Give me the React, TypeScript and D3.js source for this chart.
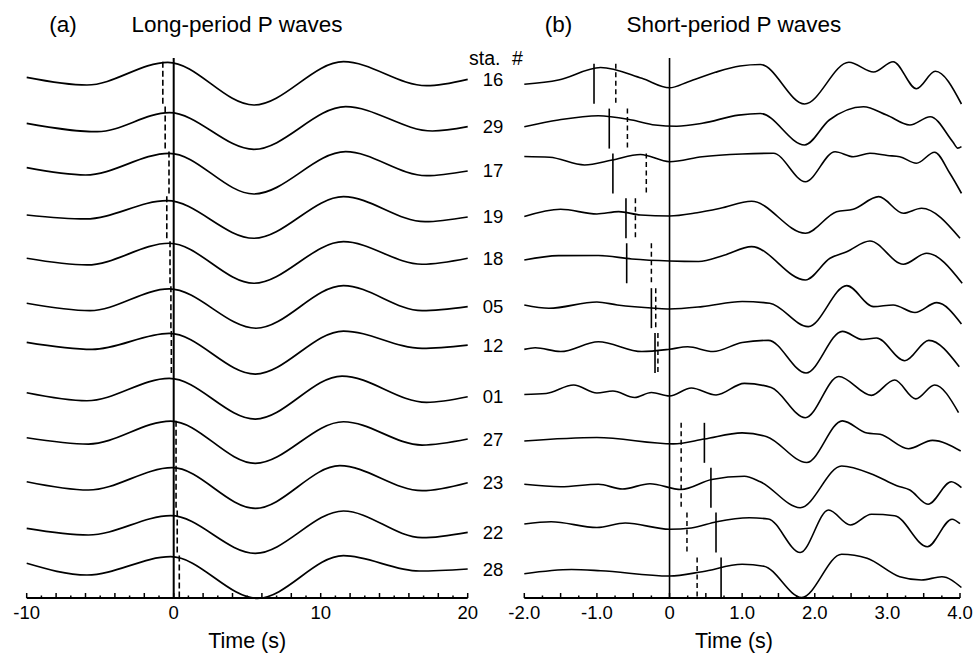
import React from 'react';
import * as d3 from 'd3';

// Station order (top to bottom)
const STATIONS = ['16', '29', '17', '19', '18', '05', '12', '01', '27', '23', '22', '28'];

// Long-period P waves: [time (s), amplitude] key points per station
const LP_16 = [[-10, 6.4], [-5.9, -1.3], [-0.4, 21.4], [5.45, -21.3], [11.55, 22.0], [17.2, -2.0], [20, 4.4]];
const LP_29 = [[-10, 5.3], [-5.2, -3.1], [-0.3, 15.9], [5.45, -20.7], [11.7, 21.9], [17.6, -2.4], [20, 1.9]];
const LP_17 = [[-10, 5.8], [-6, -1.5], [-0.3, 20.2], [5.45, -20.5], [11.7, 21.8], [17.2, -2.2], [20, 2.5]];
const LP_19 = [[-10, 3.4], [-6, -0.6], [-0.45, 17.7], [5.45, -19.9], [11.55, 21.7], [17.1, -3.3], [20, 1.4]];
const LP_18 = [[-10, 5.0], [-5.9, -1.7], [-0.3, 20.0], [5.45, -20.0], [11.55, 21.6], [16.9, -1.0], [20, 5.0]];
const LP_05 = [[-10, 4.9], [-5.7, -2.5], [-0.3, 19.2], [5.6, -20.1], [11.55, 22.5], [16.9, -2.5], [20, 1.5]];
const LP_12 = [[-10, 10.7], [-5.55, 3.7], [-0.3, 19.7], [5.55, -21.0], [11.55, 22.0], [16.9, 4.7], [20, 8.0]];
const LP_01 = [[-10, 5.2], [-5.9, -2.8], [-0.3, 19.6], [5.55, -21.1], [11.45, 21.9], [17.2, -4.4], [20, 1.2]];
const LP_27 = [[-10, 5.1], [-5.8, -1.2], [-0.2, 21.8], [5.55, -20.5], [11.55, 21.1], [16.9, -2.2], [20, 3.8]];
const LP_23 = [[-10, 6.0], [-5.8, -2.3], [-0.1, 20.0], [5.55, -20.6], [11.3, 22.0], [16.9, -3.0], [20, 5.0]];
const LP_22 = [[-10, 4.3], [-5.8, -2.4], [-0.2, 16.9], [5.55, -20.7], [11.55, 21.6], [16.9, -5.1], [20, 0.3]];
const LP_28 = [[-10, 14.2], [-5.9, 2.5], [-0.2, 20.8], [5.7, -20.8], [11.55, 21.8], [16.7, 6.5], [20, 8.5]];

// Short-period P waves: [time (s), amplitude] key points per station
const SP_16 = [[-2, -0.6], [-1.53, 3.7], [-0.95, 16.2], [-0.38, 5.4], [0, -4.1], [0.26, 2], [0.63, 11.4], [0.97, 17.7], [1.25, 19.2], [1.86, -20.3], [2.47, 21.4], [2.81, 11.7], [3.08, 22], [3.4, -5], [3.66, 12.4], [4.02, -20.3]];
const SP_29 = [[-2, 1.9], [-1.53, 8.6], [-0.98, 12.9], [-0.52, 8.6], [-0.2, 3.6], [0.1, 2.4], [0.45, 5.3], [0.95, 13.5], [1.25, 15.1], [1.86, -16.4], [2.2, 8.6], [2.67, 21.9], [2.99, 13.6], [3.31, 3.6], [3.59, 11.9], [3.9, -13.1], [3.97, -19.5], [4.02, -18]];
const SP_17 = [[-2, 17], [-1.65, 16.2], [-1.17, 8.5], [-0.79, 13.5], [-0.4, 19], [0, 11.8], [0.45, 16.8], [1.0, 19.5], [1.43, 20.2], [1.87, -8.2], [2.28, 21.8], [2.53, 16.8], [2.76, 20.2], [3.0, 18], [3.17, 16.8], [3.4, 10.2], [3.65, 21.2], [3.86, 0.2], [4.02, -19.8]];
const SP_19 = [[-2, 1.9], [-1.5, 9.1], [-1, 4.4], [-0.7, 6.7], [-0.4, 3.4], [0, 2.4], [0.38, 5.7], [0.7, 10.1], [1.13, 17.1], [1.87, -14.9], [2.3, 6.7], [2.53, 9.1], [2.88, 21.7], [3.22, 5.1], [3.47, 10.1], [4.0, -19.9]];
const SP_18 = [[-2, 3.3], [-1.53, 7.6], [-0.98, 7.8], [-0.52, 4.3], [0, 2.3], [0.4, 1.8], [0.75, 8], [1.13, 16.6], [1.87, -16.7], [2.21, 5], [2.44, 11.6], [2.76, 22.3], [3.22, -1], [3.54, 10], [4.03, -20]];
const SP_05 = [[-2, 3.2], [-1.66, -0.1], [-1.0, 6.2], [-0.72, 3.2], [-0.2, -0.1], [0, -0.8], [0.45, 1.5], [1.0, 6.7], [1.38, 4.9], [1.91, -18.5], [2.44, 22.5], [2.81, 1.5], [3.08, 3.2], [3.38, -4.3], [3.68, 5.5], [4.02, -15.8]];
const SP_12 = [[-2, 3.7], [-1.85, 5.3], [-1.5, 1.5], [-0.98, 11.3], [-0.38, 1.5], [0, 3.8], [0.25, 6.3], [0.6, 1.5], [1.0, 10.5], [1.36, 12.7], [1.88, -20], [2.38, 21.7], [2.66, 13.5], [2.85, 15], [3.24, -7.7], [3.57, 12.7], [3.99, -13.7]];
const SP_01 = [[-2, 3.4], [-1.7, 4.4], [-1.32, 12.9], [-1.0, 4.9], [-0.78, 6.9], [-0.48, 0.4], [-0.25, 5.4], [0, 1.9], [0.3, 9.9], [0.64, 2.9], [1.03, 14.6], [1.4, 10.4], [1.87, -19.8], [2.33, 21.4], [2.78, 2.6], [3.1, 17.9], [3.39, -0.9], [3.65, 12.9], [3.98, -14.6]];
const SP_27 = [[-2, 1.8], [-1.0, 5.3], [0.05, -1], [0.48, 3.8], [1.0, 10], [1.34, 6.1], [1.89, -19.7], [2.38, 22], [2.72, 9.8], [2.9, 8.5], [3.29, -5.9], [3.62, 2.5], [4.01, -8.2]];
const SP_23 = [[-2, 3.4], [-1.5, 1], [-0.98, 3.5], [-0.65, -1.3], [-0.27, 4], [0.16, -1.8], [0.58, 8.2], [1.03, 11.4], [1.25, 6], [1.8, -20], [2.37, 21.7], [2.8, 13.2], [3.13, 2], [3.31, -2.3], [3.56, -16.5], [3.88, 6], [4.02, 0.2]];
const SP_22 = [[-2, 8.6], [-1.63, 10.9], [-1.0, 5.1], [-0.61, 9.6], [0, 3.4], [0.3, 4.6], [0.65, 10.9], [1.1, 14.8], [1.36, 13.6], [1.8, -19.9], [2.19, 22.6], [2.49, 7.6], [2.78, 18.3], [3.1, 16.9], [3.55, -14.1], [3.89, 13.4], [4.0, 8.9]];
const SP_28 = [[-2, 3.8], [-1.35, 8], [-0.95, 6.8], [0, 1.5], [0.45, 5.8], [1.0, 13.2], [1.3, 11.3], [1.82, -20], [2.37, 23.2], [2.72, 19.2], [3.17, 0.8], [3.47, -2.5], [3.75, 0.8], [4.02, -10]];

// Picks (s): dashed = predicted, solid = observed (short-period); null = none
const DASHED_T = [-0.74, -0.58, -0.32, -0.47, -0.25, -0.19, -0.16, null, 0.16, 0.16, 0.24, 0.38];
const SOLID_T = [-1.04, -0.83, -0.78, -0.6, -0.59, -0.25, -0.2, null, 0.48, 0.57, 0.64, 0.71];

// Axis labels
const LP_TICK_LABELS = [-10, 0, 10, 20];
const SP_TICK_LABELS = [-2, -1, 0, 1, 2, 3, 4];

const LONG_PERIOD = [LP_16, LP_29, LP_17, LP_19, LP_18, LP_05, LP_12, LP_01, LP_27, LP_23, LP_22, LP_28];
const SHORT_PERIOD = [SP_16, SP_29, SP_17, SP_19, SP_18, SP_05, SP_12, SP_01, SP_27, SP_23, SP_22, SP_28];

const FONT = '"Liberation Sans", Arial, Helvetica, sans-serif';

export default function App() {
  const W = 975, H = 655;
  const axisY = 598;
  const xA = d3.scaleLinear().domain([-10, 20]).range([26.7, 467.7]);
  const xB = d3.scaleLinear().domain([-2, 4]).range([524.3, 960]);
  const yslot = d3.scalePoint<string>().domain(STATIONS).range([83.7, 577.5]);
  const amp = d3.scaleLinear().domain([-25, 25]).range([25, -25]);

  const mkLine = (x: d3.ScaleLinear<number, number>, st: string) =>
    d3.line<number[]>()
      .x(d => x(d[0]))
      .y(d => (yslot(st) as number) + amp(d[1]))
      .curve(d3.curveMonotoneX);

  const ticksA = d3.range(0, 31).map(i => -10 + i);
  const ticksB = d3.range(0, 25).map(i => -2 + i * 0.25);

  const fmtB = (v: number) => (v === 0 ? '0' : v.toFixed(1));

  return (
    <svg width={W} height={H} style={{ position: 'absolute', left: 0, top: 0, background: '#fff' }} fontFamily={FONT}>
      <rect x={0} y={0} width={W} height={H} fill="#fff" />
      {/* Titles */}
      <text x={63} y={31.7} fontSize={22.5} textAnchor="middle">(a)</text>
      <text x={131.5} y={31.7} fontSize={22.5}>Long-period P waves</text>
      <text x={558.5} y={32} fontSize={22.5} textAnchor="middle">(b)</text>
      <text x={626.5} y={32} fontSize={22.5}>Short-period P waves</text>
      <text x={469} y={65} fontSize={19.5}>sta.</text>
      <text x={512} y={65} fontSize={19.5}>#</text>

      {/* Panel (a) */}
      <line x1={xA(0)} x2={xA(0)} y1={58} y2={axisY} stroke="#000" strokeWidth={2} />
      {STATIONS.map((st, i) => {
        const d = mkLine(xA, st)(LONG_PERIOD[i] as any) || '';
        const t = DASHED_T[i];
        const yc = yslot(st) as number;
        return (
          <g key={'a' + st}>
            <path d={d} fill="none" stroke="#000" strokeWidth={1.7} />
            {t !== null && (
              <line x1={xA(t)} x2={xA(t)} y1={yc + amp(22)} y2={yc + amp(-22)} stroke="#000" strokeWidth={1.6} strokeDasharray="6,3" />
            )}
          </g>
        );
      })}
      {/* Station labels */}
      {STATIONS.map((st, i) => {
        const tr = LONG_PERIOD[i];
        const last = tr[tr.length - 1];
        const y = (yslot(st) as number) + amp(last[1]) + 6.5;
        return (
          <text key={'l' + st} x={493} y={y} fontSize={18.5} textAnchor="middle">{st}</text>
        );
      })}
      {/* Axis (a) */}
      <line x1={xA(-10)} x2={xA(20)} y1={axisY} y2={axisY} stroke="#000" strokeWidth={2} />
      {ticksA.map(v => (
        <line key={'ta' + v} x1={xA(v)} x2={xA(v)} y1={axisY} y2={axisY - (v % 2 === 0 ? 5 : 2.5)} stroke="#000" strokeWidth={1.5} />
      ))}
      {LP_TICK_LABELS.map(v => (
        <text key={'la' + v} x={xA(v)} y={619} fontSize={18.5} textAnchor="middle">{String(v)}</text>
      ))}
      <text x={(xA(-10) + xA(20)) / 2} y={648} fontSize={21.5} textAnchor="middle">Time (s)</text>

      {/* Panel (b) */}
      <line x1={xB(0)} x2={xB(0)} y1={58} y2={axisY} stroke="#000" strokeWidth={1.6} />
      {STATIONS.map((st, i) => {
        const d = mkLine(xB, st)(SHORT_PERIOD[i] as any) || '';
        const td = DASHED_T[i];
        const ts = SOLID_T[i];
        const yc = yslot(st) as number;
        return (
          <g key={'b' + st}>
            <path d={d} fill="none" stroke="#000" strokeWidth={1.6} />
            {td !== null && (
              <line x1={xB(td)} x2={xB(td)} y1={yc + amp(20)} y2={yc + amp(-20)} stroke="#000" strokeWidth={1.5} strokeDasharray="5,3.5" />
            )}
            {ts !== null && (
              <line x1={xB(ts)} x2={xB(ts)} y1={yc + amp(20)} y2={yc + amp(-20)} stroke="#000" strokeWidth={1.6} />
            )}
          </g>
        );
      })}
      {/* Axis (b) */}
      <line x1={xB(-2)} x2={xB(4)} y1={axisY} y2={axisY} stroke="#000" strokeWidth={2} />
      {ticksB.map((v, i) => (
        <line key={'tb' + i} x1={xB(v)} x2={xB(v)} y1={axisY} y2={axisY - (i % 2 === 0 ? 5 : 2.5)} stroke="#000" strokeWidth={1.5} />
      ))}
      {SP_TICK_LABELS.map(v => (
        <text key={'lb' + v} x={xB(v)} y={619} fontSize={18.5} textAnchor="middle">{fmtB(v)}</text>
      ))}
      <text x={734} y={648} fontSize={21.5} textAnchor="middle">Time (s)</text>
    </svg>
  );
}
